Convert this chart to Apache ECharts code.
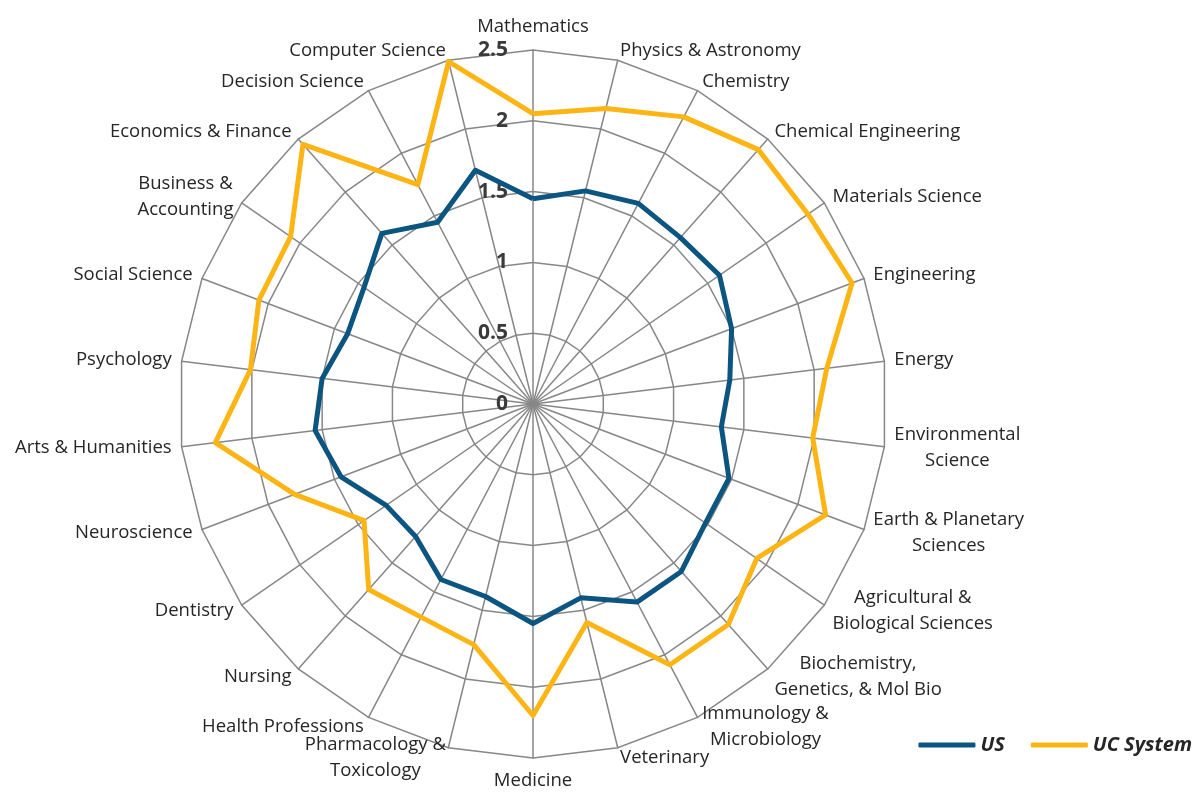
<!DOCTYPE html>
<html>
<head>
<meta charset="utf-8">
<script src="https://cdn.jsdelivr.net/npm/echarts@6/dist/echarts.min.js"></script>
<style>
  html, body { margin: 0; padding: 0; background: #fff; }
  #chart { width: 1201px; height: 794px; }
</style>
</head>
<body>
<div id="chart"></div>
<script>
// categories, clockwise from the top
var categories = [
  'Mathematics', 'Physics & Astronomy', 'Chemistry', 'Chemical Engineering',
  'Materials Science', 'Engineering', 'Energy', 'Environmental\nScience',
  'Earth & Planetary\nSciences', 'Agricultural &\nBiological Sciences',
  'Biochemistry,\nGenetics, & Mol Bio', 'Immunology &\nMicrobiology', 'Veterinary',
  'Medicine', 'Pharmacology &\nToxicology', 'Health Professions', 'Nursing',
  'Dentistry', 'Neuroscience', 'Arts & Humanities', 'Psychology', 'Social Science',
  'Business &\nAccounting', 'Economics & Finance', 'Decision Science', 'Computer Science'
];
var usValues = [
  1.45, 1.55, 1.60, 1.57, 1.60, 1.50, 1.40, 1.34, 1.48, 1.48, 1.58, 1.58, 1.41,
  1.55, 1.40, 1.40, 1.25, 1.26, 1.45, 1.55, 1.50, 1.40, 1.45, 1.61, 1.45, 1.70
];
var ucValues = [
  2.05, 2.15, 2.29, 2.40, 2.36, 2.41, 2.09, 1.99, 2.21, 1.92, 2.08, 2.08, 1.59,
  2.20, 1.75, 1.70, 1.75, 1.45, 1.80, 2.26, 2.01, 2.07, 2.08, 2.45, 1.75, 2.49
];
var axisMax = 2.5;
var axisStep = 0.5;

// echarts lays indicators out counter-clockwise, so keep the first and flip the rest
function clockwise(arr) {
  return [arr[0]].concat(arr.slice(1).reverse());
}

var indicators = clockwise(categories).map(function (name, i) {
  var ind = { name: name, min: 0, max: axisMax };
  if (i === 0) {
    // only the Mathematics spoke carries the scale labels
    ind.axisLabel = {
      show: true,
      color: '#3a3a3a',
      fontSize: 21,
      fontWeight: 'bold',
      fontFamily: 'Open Sans',
      margin: 25,
      formatter: function (v) { return String(v); }
    };
  }
  return ind;
});

var myChart = echarts.init(document.getElementById('chart'));
var option = {
  animation: false,
  legend: {
    right: 4,
    top: 730,
    icon: 'roundRect',
    itemWidth: 57,
    itemHeight: 5,
    itemGap: 26,
    textStyle: {
      color: '#262626',
      fontSize: 20,
      fontWeight: 'bold',
      fontStyle: 'italic',
      fontFamily: 'Open Sans'
    },
    data: ['US', 'UC System']
  },
  radar: {
    center: [533, 404],
    radius: 354,
    shape: 'polygon',
    splitNumber: axisMax / axisStep,
    nameGap: 10,
    axisName: {
      color: '#262626',
      fontSize: 18.5,
      fontFamily: 'Open Sans',
      formatter: function (name) {
        return name.split('\n').map(function (s) { return '{c|' + s + '}'; }).join('\n');
      },
      rich: {
        c: { align: 'center', fontSize: 18.5, fontFamily: 'Open Sans', color: '#262626', lineHeight: 26 }
      }
    },
    axisLine: { lineStyle: { color: '#878787', width: 1.5 } },
    splitLine: { lineStyle: { color: '#878787', width: 1.5 } },
    splitArea: { show: false },
    axisTick: { show: false },
    axisLabel: { show: false },
    indicator: indicators
  },
  series: [{
    type: 'radar',
    symbol: 'none',
    data: [
      {
        name: 'US',
        value: clockwise(usValues),
        lineStyle: { color: '#0b5580', width: 5 },
        itemStyle: { color: '#0b5580' }
      },
      {
        name: 'UC System',
        value: clockwise(ucValues),
        lineStyle: { color: '#fdb515', width: 5 },
        itemStyle: { color: '#fdb515' }
      }
    ]
  }]
};
myChart.setOption(option);
</script>
</body>
</html>
